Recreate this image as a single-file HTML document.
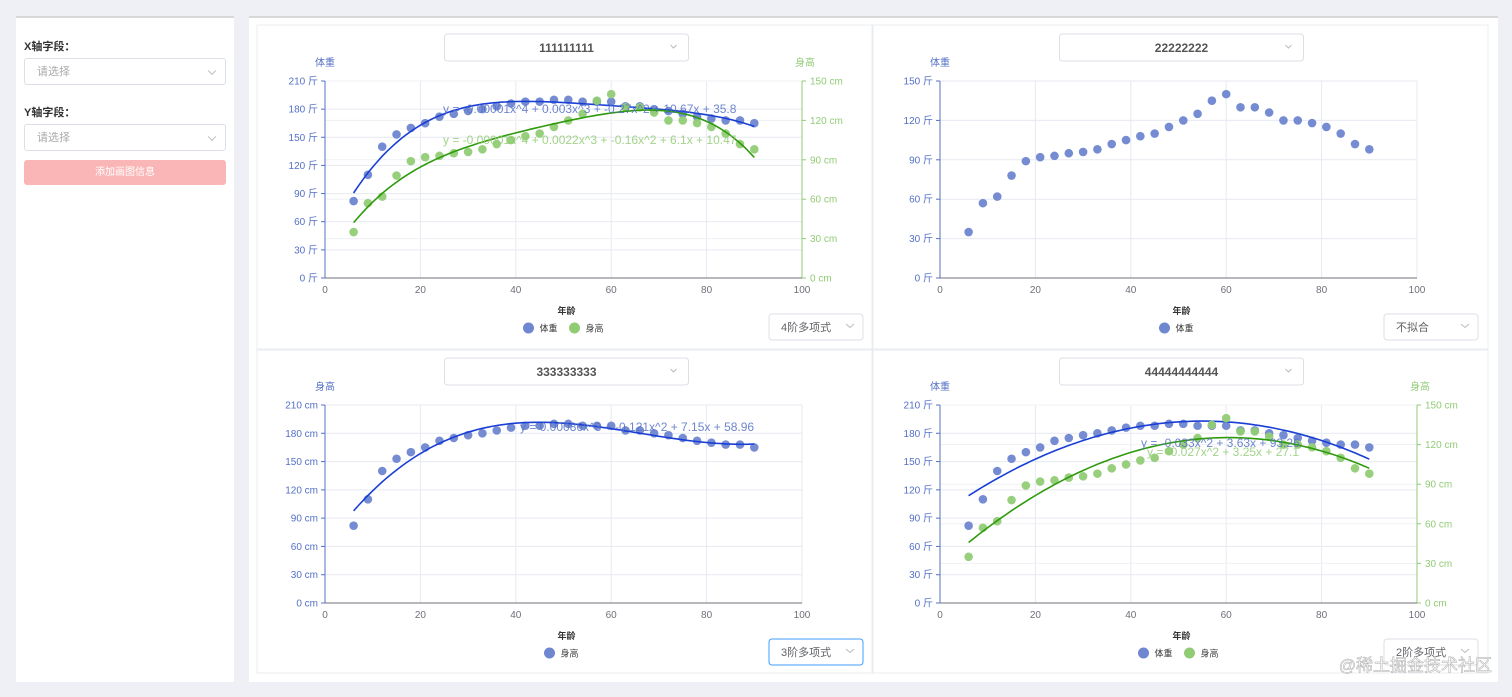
<!DOCTYPE html>
<html><head><meta charset="utf-8">
<style>
*{box-sizing:border-box;margin:0;padding:0}
body{width:1512px;height:697px;background:#eef0f5;font-family:"Liberation Sans","Noto Sans CJK SC",sans-serif;position:relative;overflow:hidden}
.side{position:absolute;left:16px;top:16px;width:218px;height:666px;background:#fff;border-top:2px solid #d8d8d8}
.lbl{position:absolute;left:8px;font-size:11px;font-weight:bold;color:#333}
.sel{position:absolute;border:1px solid #dcdfe6;border-radius:3px;background:#fff;font-size:11px;color:#aaa}
.sel .ar{position:absolute;right:10px;top:50%;width:6px;height:6px;border-right:1px solid #bbb;border-bottom:1px solid #bbb;transform:translateY(-70%) rotate(45deg)}
.btn{position:absolute;left:8px;top:142px;width:202px;height:25px;background:#fab6b6;border-radius:3px;color:#fff;font-size:10px;text-align:center;line-height:25px}
.main{position:absolute;left:249px;top:16px;width:1249px;height:666px;background:#fff;border-top:2px solid #d8d8d8}
svg{position:absolute;left:0;top:0}
</style></head><body>
<div class="side">
 <div class="lbl" style="top:20px">X轴字段：</div>
 <div class="sel" style="left:8px;top:40px;width:202px;height:27px;line-height:27px;padding-left:12px">请选择<span class="ar"></span></div>
 <div class="lbl" style="top:86px">Y轴字段：</div>
 <div class="sel" style="left:8px;top:106px;width:202px;height:27px;line-height:27px;padding-left:12px">请选择<span class="ar"></span></div>
 <div class="btn">添加画图信息</div>
</div>
<div class="main"></div>
<svg id="s" width="1512" height="697" xmlns="http://www.w3.org/2000/svg" font-family="Liberation Sans, Noto Sans CJK SC, sans-serif"></svg>
<script>
const X=[],W=[82,110,140,153,160,165,172,175,178,180,183,186,188,188,190,190,188,188,188,183,183,180,178,175,172,170,168,168,165],
H=[35,57,62,78,89,92,93,95,96,98,102,105,108,110,115,120,125,135,140,130,130,126,120,120,118,115,110,102,98];
for(let x=6;x<=90;x+=3)X.push(x);
function polyfit(xs,ys,d){const n=d+1,A=[];for(let i=0;i<n;i++){A.push([]);for(let j=0;j<n;j++){let s=0;xs.forEach(x=>s+=Math.pow(x,i+j));A[i].push(s)}let s=0;xs.forEach((x,k)=>s+=Math.pow(x,i)*ys[k]);A[i].push(s)}
for(let i=0;i<n;i++){let p=i;for(let r=i+1;r<n;r++)if(Math.abs(A[r][i])>Math.abs(A[p][i]))p=r;[A[i],A[p]]=[A[p],A[i]];for(let r=0;r<n;r++)if(r!=i){const f=A[r][i]/A[i][i];for(let c=i;c<=n;c++)A[r][c]-=f*A[i][c]}}
return A.map((r,i)=>r[n]/r[i])}
let out='';
const B='#5470c6',BD='#6f86d0',G='#91cc75';
function cell(x,y,w,h){out+=`<rect x="${x}" y="${y}" width="${w}" height="${h}" fill="#fff" stroke="#e8ecf2"/>`}
function chart(o){
 const {x0,x1,yt,yb,lmax,lunit,lname,rname,series,title,eqs,sel,selc}=o;
 const nt=o.nt||7;
 const px=v=>x0+(x1-x0)*v/100;
 for(let i=0;i<=5;i++){const gx=px(i*20);out+=`<line x1="${gx}" y1="${yt}" x2="${gx}" y2="${yb}" stroke="#e6e9f0"/>`;out+=`<text x="${gx}" y="${yb+15}" font-size="10" fill="#6e7079" text-anchor="middle">${i*20}</text>`}
 for(let i=0;i<=nt;i++){const gy=yb-(yb-yt)*i/nt;out+=`<line x1="${x0}" y1="${gy}" x2="${x1}" y2="${gy}" stroke="#e6e9f0"/>`;out+=`<line x1="${x0-4}" y1="${gy}" x2="${x0}" y2="${gy}" stroke="${B}"/><text x="${x0-7}" y="${gy+3.5}" font-size="10" fill="${B}" text-anchor="end">${i*lmax/nt} ${lunit}</text>`}
 if(rname){for(let i=0;i<=5;i++){const gy=yb-(yb-yt)*i/5;out+=`<line x1="${x0}" y1="${gy}" x2="${x1}" y2="${gy}" stroke="#eef0f4"/><line x1="${x1}" y1="${gy}" x2="${x1+4}" y2="${gy}" stroke="${G}"/><text x="${x1+8}" y="${gy+3.5}" font-size="10" fill="${G}">${i*30} cm</text>`}
 out+=`<line x1="${x1}" y1="${yt}" x2="${x1}" y2="${yb}" stroke="${G}"/><text x="${x1+3}" y="${yt-15}" font-size="10" fill="${G}" text-anchor="middle">${rname}</text>`}
 out+=`<line x1="${x0}" y1="${yt}" x2="${x0}" y2="${yb}" stroke="${B}"/><line x1="${x0}" y1="${yb}" x2="${x1}" y2="${yb}" stroke="#6e7079"/>`;
 out+=`<text x="${x0}" y="${yt-15}" font-size="10" fill="${B}" text-anchor="middle">${lname}</text>`;
 series.forEach(s=>{const py=v=>yb-(yb-yt)*v/s.max;
  s.d.forEach((v,i)=>out+=`<circle cx="${px(X[i])}" cy="${py(v)}" r="4.3" fill="${s.c}" opacity="0.95"/>`);
  if(s.deg){const c=polyfit(X,s.d,s.deg);let p='';for(let x=6;x<=90;x+=1){let v=0;c.forEach((k,j)=>v+=k*Math.pow(x,j));p+=(p?'L':'M')+px(x).toFixed(1)+','+py(v).toFixed(1)}out+=`<path d="${p}" fill="none" stroke="${s.lc}" stroke-width="1.6"/>`}
 });
 (eqs||[]).forEach(e=>out+=`<text x="${e[0]}" y="${e[1]}" font-size="12" fill="${e[3]}" opacity="0.85">${e[2]}</text>`);
 const cx=(x0+x1)/2+3;
 out+=`<text x="${cx}" y="${yb+36}" font-size="9" font-weight="bold" fill="#333" text-anchor="middle">年龄</text>`;
 const n=series.length;let lx=n==2?cx-38:cx-17;
 series.forEach(s=>{out+=`<circle cx="${lx}" cy="${yb+50}" r="5.5" fill="${s.c}"/><text x="${lx+11}" y="${yb+53.5}" font-size="9" fill="#333">${s.n}</text>`;lx+=46});
 const tx=cx-122;
 out+=`<rect x="${tx}" y="${yt-47}" width="244" height="27" rx="3" fill="#fff" stroke="#dcdfe6"/><text x="${cx}" y="${yt-29}" font-size="12" font-weight="bold" fill="#555" text-anchor="middle">${title}</text><path d="M${tx+226} ${yt-36}l3 3l3 -3" fill="none" stroke="#bbb"/>`;
 const sx=x1-33;
 out+=`<rect x="${sx}" y="${yb+36}" width="94" height="26" rx="3" fill="#fff" stroke="${selc||'#dcdfe6'}"/><text x="${sx+12}" y="${yb+53}" font-size="11" fill="#606266">${sel}</text><path d="M${sx+77} ${yb+46}l4 3.5l4 -3.5" fill="none" stroke="#bbb"/>`;
}
cell(257,25,615,324);cell(873,25,615,324);cell(257,350,615,323);cell(873,350,615,323);
chart({x0:325,x1:802,yt:81,yb:278,lmax:210,lunit:'斤',lname:'体重',rname:'身高',title:'111111111',sel:'4阶多项式',
 series:[{d:W,max:210,c:BD,lc:'#1a3fd6',deg:4,n:'体重'},{d:H,max:150,c:G,lc:'#2e9a0c',deg:4,n:'身高'}],
 eqs:[[443,113,'y = -0.00001x^4 + 0.003x^3 + -0.27x^2 + 10.67x + 35.8',B],[443,144,'y = -0.00001x^4 + 0.0022x^3 + -0.16x^2 + 6.1x + 10.47',G]]});
chart({x0:940,x1:1417,yt:81,yb:278,lmax:150,nt:5,lunit:'斤',lname:'体重',title:'22222222',sel:'不拟合',
 series:[{d:H,max:150,c:BD,n:'体重'}]});
chart({x0:325,x1:802,yt:405,yb:603,lmax:210,lunit:'cm',lname:'身高',title:'333333333',sel:'3阶多项式',selc:'#409eff',
 series:[{d:W,max:210,c:BD,lc:'#1a3fd6',deg:3,n:'身高'}],
 eqs:[[520,431,'y = 0.00086x^3 + -0.121x^2 + 7.15x + 58.96',B]]});
chart({x0:940,x1:1417,yt:405,yb:603,lmax:210,lunit:'斤',lname:'体重',rname:'身高',title:'44444444444',sel:'2阶多项式',
 series:[{d:W,max:210,c:BD,lc:'#1a3fd6',deg:2,n:'体重'},{d:H,max:150,c:G,lc:'#2e9a0c',deg:2,n:'身高'}],
 eqs:[[1141,447,'y = -0.033x^2 + 3.63x + 93.26',B],[1147,456,'y = -0.027x^2 + 3.25x + 27.1',G]]});
out+=`<text x="1492" y="671" font-size="17" fill="#fff" fill-opacity="0.7" stroke="#aaa" stroke-width="0.5" text-anchor="end">@稀土掘金技术社区</text>`;
document.getElementById('s').innerHTML=out;
</script>
</body></html>
